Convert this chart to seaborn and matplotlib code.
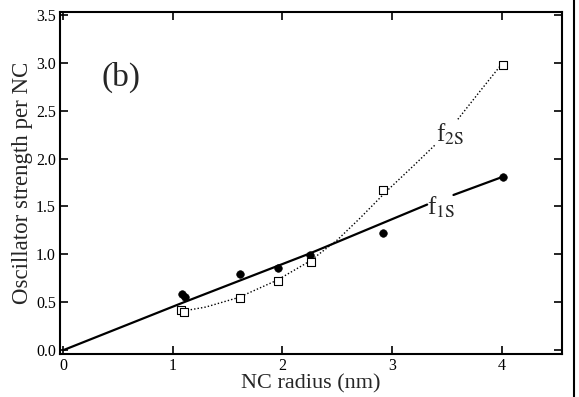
import pandas as pd
import numpy as np
import matplotlib.pyplot as plt
import seaborn as sns
from matplotlib.lines import Line2D

radius_1s = [1.08, 1.11, 1.61, 1.96, 2.25, 2.92, 4.01]
f_1s = [0.59, 0.55, 0.80, 0.86, 0.99, 1.22, 1.81]
radius_2s = [1.07, 1.10, 1.61, 1.96, 2.26, 2.92, 4.01]
f_2s = [0.42, 0.40, 0.54, 0.72, 0.92, 1.67, 2.98]

# calculated curves, split where the labels sit
fit1s_a_x = [0.0, 1.10, 2.25, 3.32]
fit1s_a_y = [0.0, 0.50, 1.01, 1.52]
fit1s_b_x = [3.56, 4.01]
fit1s_b_y = [1.62, 1.81]
fit2s_a_x = [1.10, 1.30, 1.60, 1.95, 2.25, 2.50, 2.70, 2.95, 3.20, 3.39]
fit2s_a_y = [0.41, 0.45, 0.55, 0.73, 0.93, 1.15, 1.37, 1.66, 1.93, 2.14]
fit2s_b_x = [3.60, 3.80, 4.01]
fit2s_b_y = [2.41, 2.70, 3.00]

xticks = [0, 1, 2, 3, 4]
yticks = [0.0, 0.5, 1.0, 1.5, 2.0, 2.5, 3.0, 3.5]

sns.set_theme(style="ticks")
plt.rcParams['font.family'] = ['Liberation Serif', 'DejaVu Serif']
plt.rcParams['mathtext.fontset'] = 'stix'

fig = plt.figure(figsize=(5.79, 3.97), dpi=100)
ax = fig.add_axes([0.1036, 0.1083, 0.867, 0.8615])

pts1 = pd.DataFrame({'r': radius_1s, 'f': f_1s})
pts2 = pd.DataFrame({'r': radius_2s, 'f': f_2s})

for xs, ys in [(fit1s_a_x, fit1s_a_y), (fit1s_b_x, fit1s_b_y)]:
    sns.lineplot(x=xs, y=ys, ax=ax, color='black', lw=1.6, sort=False)
for xs, ys in [(fit2s_a_x, fit2s_a_y), (fit2s_b_x, fit2s_b_y)]:
    sns.lineplot(x=xs, y=ys, ax=ax, color='black', lw=1.0,
                 linestyle=(0, (1, 1.5)), sort=False)

sns.scatterplot(data=pts1, x='r', y='f', ax=ax, marker='o', s=30,
                color='black', edgecolor='black', zorder=5)
sns.scatterplot(data=pts2, x='r', y='f', ax=ax, marker='s', s=30,
                facecolor='white', edgecolor='black', linewidth=0.8, zorder=5)

ax.text(3.32, 1.49, r'f$_{\mathrm{1S}}$', fontsize=18, va='center', ha='left')
ax.text(3.40, 2.25, r'f$_{\mathrm{2S}}$', fontsize=18, va='center', ha='left')
ax.text(0.35, 2.85, '(b)', fontsize=24, va='center', ha='left')

ax.set_xlim(-0.03, 4.55)
ax.set_ylim(-0.04, 3.53)
ax.set_xticks(xticks)
ax.set_xticklabels([str(t) for t in xticks])
ax.set_yticks(yticks)
ax.set_yticklabels([f'{t:.1f}' for t in yticks])
ax.tick_params(direction='in', length=6, width=1.2, top=True, right=True,
               labelsize=11.5, colors='black', pad=3)
for sp in ax.spines.values():
    sp.set_linewidth(1.5)
    sp.set_color('black')

ax.set_xlabel('NC radius (nm)', fontsize=16, labelpad=0)
ax.set_ylabel('Oscillator strength per NC', fontsize=16.5, labelpad=2)

# scan border on the right edge
fig.add_artist(Line2D([0.9914, 0.9914], [0, 1], color='black', lw=1.5,
                      transform=fig.transFigure))

fig.savefig('out.png', dpi=100)
